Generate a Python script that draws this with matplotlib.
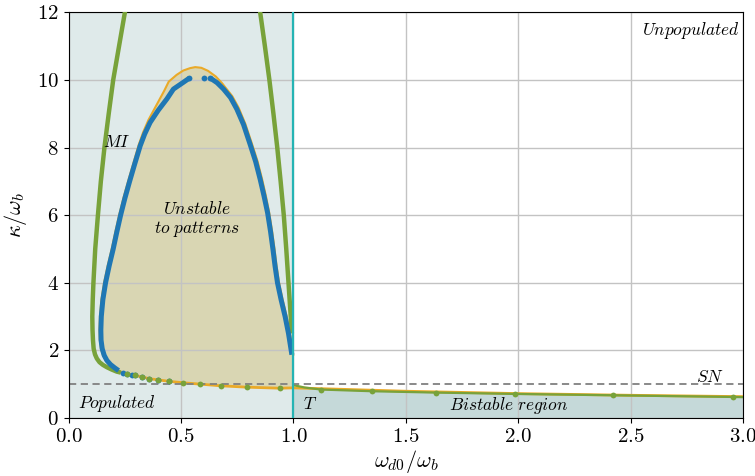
import matplotlib
matplotlib.use("Agg")
import matplotlib.pyplot as plt
import numpy as np

plt.rcParams.update({
    "font.family": "serif",
    "font.serif": ["cmr10"],
    "mathtext.fontset": "cm",
    "axes.formatter.use_mathtext": True,
    "axes.unicode_minus": False,
})

# ---- data ----
# MI curve (green), left and right branches
mi_left_x = [0.258, 0.250, 0.224, 0.198, 0.178, 0.159, 0.143, 0.130, 0.118, 0.110, 0.107, 0.105, 0.106, 0.108, 0.111, 0.117, 0.125, 0.137, 0.152, 0.170, 0.192, 0.214, 0.232]
mi_left_y = [12.5, 12.0, 11.0, 10.0, 9.0, 8.0, 7.0, 6.0, 5.0, 4.0, 3.5, 3.0, 2.6, 2.3, 2.05, 1.88, 1.76, 1.65, 1.57, 1.50, 1.43, 1.37, 1.34]
mi_right_x = [0.842, 0.852, 0.873, 0.893, 0.911, 0.928, 0.943, 0.957, 0.968, 0.978, 0.988, 0.993]
mi_right_y = [12.5, 12.0, 11.0, 10.0, 9.0, 8.0, 7.0, 6.0, 5.0, 4.0, 3.0, 2.5]
# green dots along the lower branch
mi_dots_x = [0.259, 0.296, 0.325, 0.359, 0.399, 0.448, 0.510, 0.585, 0.678, 0.793, 0.938,
             1.122, 1.349, 1.634, 1.987, 2.421, 2.958]
mi_dots_y = [1.31, 1.26, 1.21, 1.16, 1.12, 1.08, 1.04, 1.00, 0.95, 0.91, 0.88,
             0.84, 0.79, 0.75, 0.71, 0.67, 0.62]
# green line beyond T
mi_tail_x = [1.0, 1.05, 1.122, 1.349, 1.634, 1.987, 2.421, 2.958, 3.0]
mi_tail_y = [0.97, 0.90, 0.84, 0.79, 0.75, 0.71, 0.67, 0.62, 0.615]

# pattern-instability curve (blue)
pat_left_x = [0.222, 0.205, 0.186, 0.170, 0.158, 0.149, 0.144, 0.143, 0.145, 0.152, 0.164, 0.180, 0.198, 0.214, 0.231, 0.250, 0.271, 0.293, 0.318, 0.338, 0.362, 0.398, 0.437, 0.466, 0.510, 0.536]
pat_left_y = [1.40, 1.48, 1.58, 1.70, 1.85, 2.05, 2.30, 2.60, 3.00, 3.50, 4.00, 4.50, 5.00, 5.50, 6.00, 6.50, 7.00, 7.50, 8.05, 8.40, 8.74, 9.10, 9.44, 9.73, 9.93, 10.05]
pat_right_x = [0.629, 0.660, 0.689, 0.720, 0.748, 0.778, 0.807, 0.832, 0.852, 0.869, 0.885, 0.898, 0.909, 0.918, 0.929, 0.945, 0.963, 0.978, 0.993]
pat_right_y = [10.06, 9.92, 9.73, 9.48, 9.14, 8.68, 8.10, 7.58, 7.06, 6.57, 6.07, 5.52, 4.98, 4.50, 4.00, 3.50, 3.00, 2.50, 1.87]
pat_dots_x = [0.536, 0.600, 0.629, 0.240, 0.259, 0.280, 0.296, 0.325, 0.359, 0.399, 0.448]
pat_dots_y = [10.05, 10.06, 10.06, 1.33, 1.31, 1.28, 1.26, 1.21, 1.16, 1.12, 1.08]

# boundary of the unstable region (orange)
bnd_top_x = [0.218, 0.200, 0.181, 0.165, 0.152, 0.143, 0.138, 0.137, 0.139, 0.146, 0.158, 0.174, 0.192, 0.208, 0.225, 0.244, 0.265, 0.287, 0.311, 0.331, 0.355, 0.390, 0.425, 0.445, 0.480, 0.510, 0.540, 0.563,
             0.590, 0.620, 0.655, 0.683, 0.697, 0.728, 0.756, 0.786, 0.815, 0.840, 0.860, 0.877, 0.892, 0.905, 0.916, 0.925, 0.936, 0.952, 0.970, 0.985, 0.999]
bnd_top_y = [1.38, 1.46, 1.57, 1.70, 1.86, 2.06, 2.32, 2.62, 3.02, 3.52, 4.02, 4.52, 5.02, 5.52, 6.02, 6.52, 7.02, 7.52, 8.07, 8.45, 8.82, 9.25, 9.68, 9.95, 10.15, 10.28, 10.35, 10.38,
             10.36, 10.27, 10.10, 9.90, 9.78, 9.52, 9.18, 8.70, 8.12, 7.60, 7.08, 6.58, 6.08, 5.53, 4.99, 4.50, 4.00, 3.50, 3.00, 2.50, 1.87]
# lower (saddle-node) branch (orange)
sn_x = [0.218, 0.260, 0.300, 0.360, 0.450, 0.510, 0.585, 0.678, 0.793, 0.938, 1.0, 1.5, 2.0, 2.5, 3.0]
sn_y = [1.38, 1.30, 1.25, 1.16, 1.08, 1.04, 1.00, 0.95, 0.91, 0.88, 0.89, 0.79, 0.72, 0.67, 0.63]

sn_level = 1.0
t_point = 1.0

xticks = [0.0, 0.5, 1.0, 1.5, 2.0, 2.5, 3.0]
yticks = [0, 2, 4, 6, 8, 10, 12]

# ---- colours ----
c_green = "#78a23a"
c_blue = "#1f77b4"
c_orange = "#eaaa28"
c_teal = "#25b4b4"
c_pop = "#dfeaea"
c_unst = "#d9d6b3"
c_bist = "#c5d9d9"

fig = plt.figure(figsize=(7.55, 4.76), dpi=100)
ax = fig.add_axes([0.091, 0.122, 0.893, 0.852])

# fills
ax.axvspan(0, t_point, color=c_pop, lw=0, zorder=0.2)
sn_arr_x = np.array(sn_x)
sn_arr_y = np.array(sn_y)
mask = sn_arr_x >= t_point
ax.fill_between(sn_arr_x[mask], 0, sn_arr_y[mask], color=c_bist, lw=0, zorder=0.2)
left = sn_arr_x <= t_point
poly_x = list(bnd_top_x) + [t_point] + list(sn_arr_x[left][::-1])
poly_y = list(bnd_top_y) + [bnd_top_y[-1]] + list(sn_arr_y[left][::-1])
ax.fill(poly_x, poly_y, color=c_unst, lw=0, zorder=0.3)

ax.grid(True, color="#c3c3c3", lw=1.0)
ax.set_axisbelow(True)

# lines
ax.plot(bnd_top_x, bnd_top_y, color=c_orange, lw=1.5, zorder=2)
ax.plot(sn_x, sn_y, color=c_orange, lw=2.0, zorder=2)
ax.axhline(sn_level, color="#808080", lw=1.3, ls=(0, (4, 2.5)), zorder=2.5)
ax.plot(mi_left_x, mi_left_y, color=c_green, lw=3.2, zorder=3, solid_capstyle="butt", solid_joinstyle="round")
ax.plot(mi_right_x, mi_right_y, color=c_green, lw=3.2, zorder=3, solid_capstyle="butt", solid_joinstyle="round")
ax.plot(mi_tail_x, mi_tail_y, color=c_green, lw=1.6, zorder=2.2)
ax.plot(pat_left_x, pat_left_y, color=c_blue, lw=3.6, zorder=3.2, solid_capstyle="butt", solid_joinstyle="round")
ax.plot(pat_right_x, pat_right_y, color=c_blue, lw=3.6, zorder=3.2, solid_capstyle="butt", solid_joinstyle="round")
ax.plot(pat_dots_x, pat_dots_y, "o", color=c_blue, ms=4.2, mew=0, zorder=3.3)
ax.plot(mi_dots_x, mi_dots_y, "o", color=c_green, ms=4.2, mew=0, zorder=3.4)
ax.axvline(t_point, color=c_teal, lw=1.6, zorder=3.5)

# annotations
fs = 12.5
ax.text(0.153, 8.15, r"$MI$", fontsize=fs, ha="left", va="center", zorder=5)
ax.text(0.57, 6.2, r"$Unstable$", fontsize=fs, ha="center", va="center", zorder=5)
ax.text(0.57, 5.6, r"$to\ patterns$", fontsize=fs, ha="center", va="center", zorder=5)
ax.text(2.985, 11.45, r"$Unpopulated$", fontsize=fs, ha="right", va="center", zorder=5)
ax.text(2.855, 1.2, r"$SN$", fontsize=fs, ha="center", va="center", zorder=5)
ax.text(0.216, 0.42, r"$Populated$", fontsize=fs, ha="center", va="center", zorder=5)
ax.text(1.075, 0.42, r"$T$", fontsize=fs, ha="center", va="center", zorder=5)
ax.text(1.955, 0.36, r"$Bistable\ region$", fontsize=fs, ha="center", va="center", zorder=5)

ax.set_xlim(0, 3)
ax.set_ylim(0, 12)
ax.set_xticks(xticks)
ax.set_yticks(yticks)
ax.tick_params(labelsize=15)
ax.set_xlabel(r"$\omega_{d0}/\omega_b$", fontsize=16, labelpad=2)
ax.set_ylabel(r"$\kappa/\omega_b$", fontsize=16, labelpad=6)

fig.savefig("out.png", dpi=100)
